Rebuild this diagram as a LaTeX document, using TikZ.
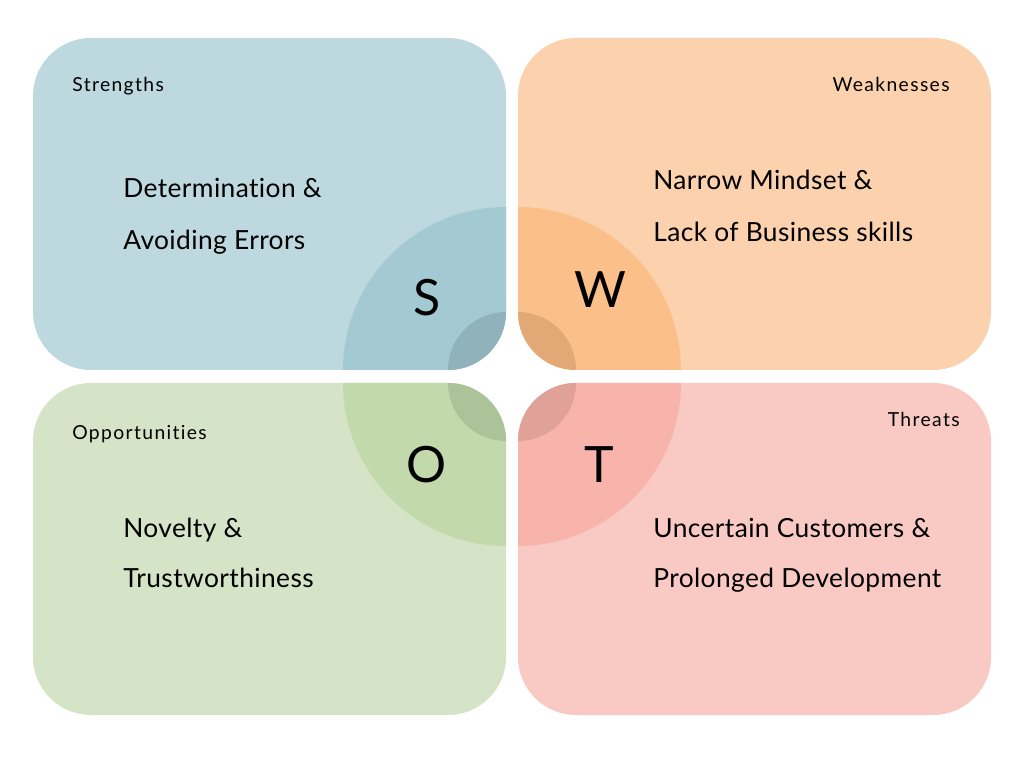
\documentclass[tikz,border=0pt]{standalone}
\usepackage{fontspec}
\setmainfont{Lato}
\newfontfamily\kopffont[LetterSpace=7, Ligatures=NoCommon]{Lato}
\newfontfamily\zeilefont[LetterSpace=1.5, Ligatures=NoCommon]{Lato}
\definecolor{sBase}{HTML}{BDD9DF}
\definecolor{sMid}{HTML}{A3CAD3}
\definecolor{sDark}{HTML}{90B2BA}
\definecolor{wBase}{HTML}{FBD2AD}
\definecolor{wMid}{HTML}{FBC08A}
\definecolor{wDark}{HTML}{E2A977}
\definecolor{oBase}{HTML}{D5E3C6}
\definecolor{oMid}{HTML}{C2D9AB}
\definecolor{oDark}{HTML}{ACC39A}
\definecolor{tBase}{HTML}{F9CAC3}
\definecolor{tMid}{HTML}{F8B4AA}
\definecolor{tDark}{HTML}{E0A198}

\tikzset{
    tile/.style={rounded corners=1.16cm},
    kopf/.style={inner sep=0pt, anchor=base west, font=\kopffont\fontsize{11}{13}\selectfont},
    zeile/.style={inner sep=0pt, anchor=base west, font=\zeilefont\fontsize{15}{18}\selectfont},
    buchst/.style={inner sep=0pt, anchor=base, font=\fontsize{28.5}{32}\selectfont}
}

\begin{document}
\begin{tikzpicture}[x=0.02cm, y=0.02cm]
    \useasboundingbox[fill=white] (0,0) rectangle (1024,768);
    % Strengths
    \begin{scope}
        \clip[tile] (33,398) rectangle (506,730);
        \fill[sBase] (0,380) rectangle (520,768);
        \fill[sMid] (506,398) circle[radius=163];
        \fill[sDark] (506,398) circle[radius=58];
    \end{scope}
    % Weaknesses
    \begin{scope}
        \clip[tile] (518,398) rectangle (991,730);
        \fill[wBase] (510,380) rectangle (1024,768);
        \fill[wMid] (518,398) circle[radius=163];
        \fill[wDark] (518,398) circle[radius=58];
    \end{scope}
    % Opportunities
    \begin{scope}
        \clip[tile] (33,53) rectangle (506,385);
        \fill[oBase] (0,0) rectangle (520,390);
        \fill[oMid] (506,385) circle[radius=163];
        \fill[oDark] (506,385) circle[radius=58];
    \end{scope}
    % Threats
    \begin{scope}
        \clip[tile] (518,53) rectangle (991,385);
        \fill[tBase] (510,0) rectangle (1024,390);
        \fill[tMid] (518,385) circle[radius=163];
        \fill[tDark] (518,385) circle[radius=58];
    \end{scope}

    \path node[kopf] (staerken) at (72,676) {Strengths}
        node[zeile] (s1) at (123,570) {Determination \&}
        node[zeile] (s2) at (123,518) {Avoiding Errors}
        node[kopf, anchor=base east] (schwaechen) at (950,676) {Weaknesses}
        node[zeile] (w1) at (653,578) {Narrow Mindset \&}
        node[zeile] (w2) at (653,526) {Lack of Business skills}
        node[kopf] (chancen) at (72,328) {Opportunities}
        node[zeile] (o1) at (123,231) {Novelty \&}
        node[zeile] (o2) at (123,181) {Trustworthiness}
        node[kopf, anchor=base east] (risiken) at (960,341) {Threats}
        node[zeile] (t1) at (653,231) {Uncertain Customers \&}
        node[zeile] (t2) at (653,181) {Prolonged Development};

    \path node[buchst] (S) at (427,452) {S}
        node[buchst] (W) at (600,460) {W}
        node[buchst] (O) at (427,286) {O}
        node[buchst] (T) at (599,286) {T};
\end{tikzpicture}
\end{document}
